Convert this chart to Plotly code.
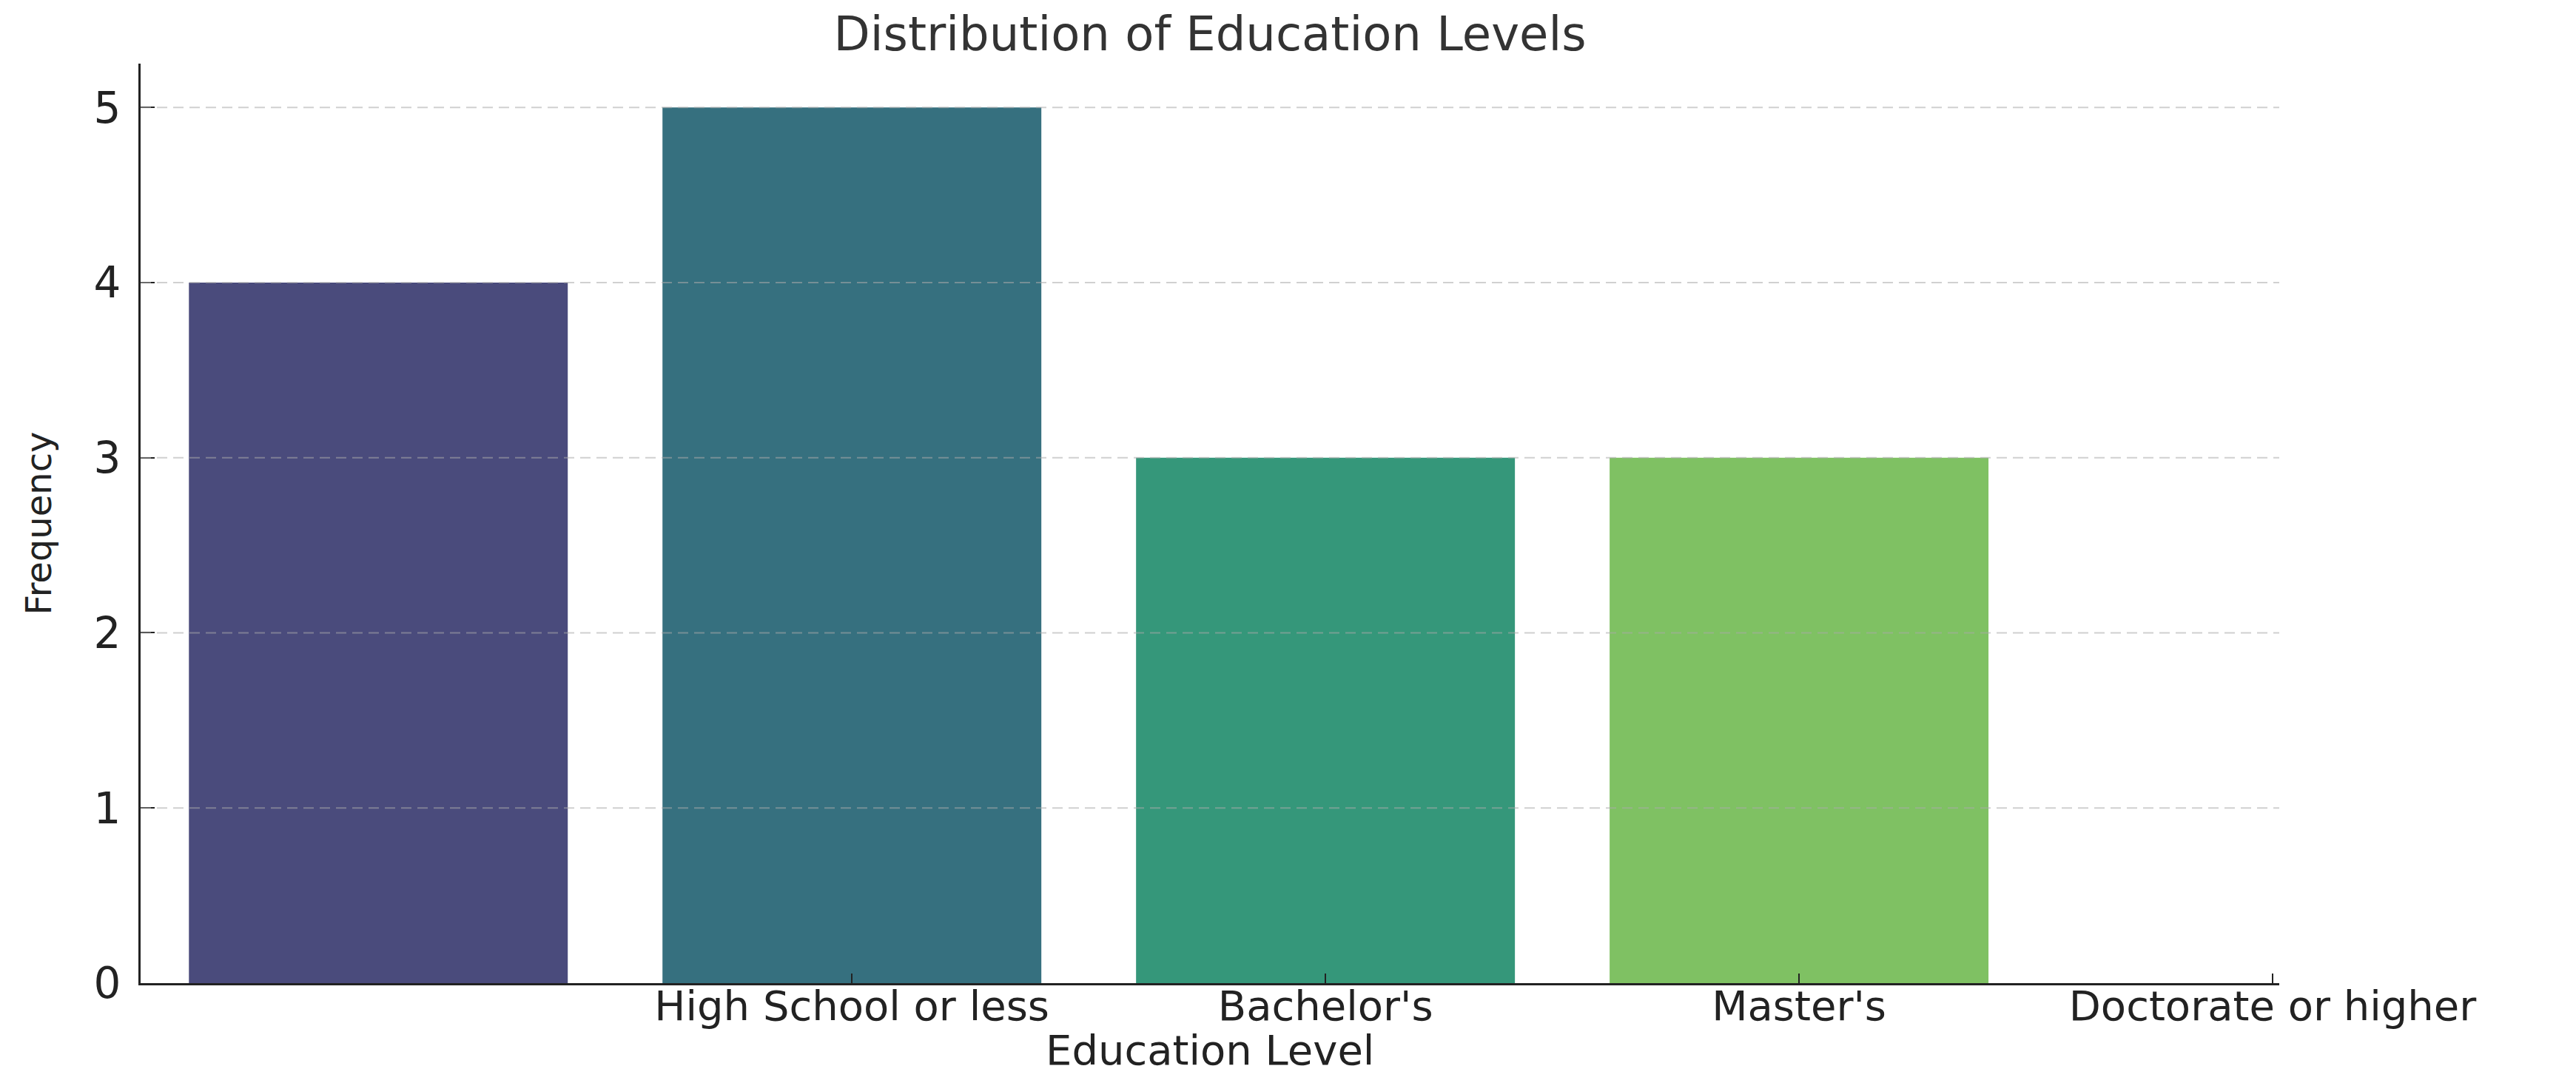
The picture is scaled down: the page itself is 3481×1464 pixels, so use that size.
import plotly.graph_objects as go

# Data
bar_positions = [0, 1, 2, 3]
frequencies = [4, 5, 3, 3]
bar_colors = ["#4A4B7C", "#36707F", "#35977A", "#7FC163"]
tick_positions = [1, 2, 3, 4]
tick_labels = ["High School or less", "Bachelor's", "Master's", "Doctorate or higher"]
y_ticks = [0, 1, 2, 3, 4, 5]
grid_values = [1, 2, 3, 4, 5]

FONT = "DejaVu Sans, Verdana, sans-serif"
# page body has an 8px margin; figure sized to fit inside the window
W, H = 3465, 1448
L, T = 182, 78
R = W - 3072
B = H - 1321
PLOT_H = H - T - B

fig = go.Figure()
fig.add_trace(go.Bar(
    x=bar_positions,
    y=frequencies,
    width=0.8,
    marker=dict(color=bar_colors, line=dict(width=0)),
    showlegend=False,
    hoverinfo="x+y",
))

# dashed grid drawn above the bars, as in the reference
for gv in grid_values:
    fig.add_shape(
        type="line", xref="paper", yref="y",
        x0=0, x1=1, y0=gv, y1=gv,
        line=dict(color="rgba(170,170,170,0.55)", width=2, dash="14px,8px"),
        layer="above",
    )

fig.add_annotation(
    text="Education Level",
    xref="paper", yref="paper",
    x=0.5, y=-91 / PLOT_H,
    xanchor="center", yanchor="middle",
    showarrow=False,
    font=dict(size=56, family=FONT, color="#222222"),
)

fig.update_layout(
    width=W,
    height=H,
    margin=dict(l=L, r=R, t=T, b=B, autoexpand=False),
    paper_bgcolor="white",
    plot_bgcolor="white",
    font=dict(family=FONT, color="#222222", size=56),
    title=dict(
        text="Distribution of Education Levels",
        x=(L + (W - R)) / 2 / W,
        xanchor="center",
        y=1 - 38 / H,
        yanchor="middle",
        font=dict(size=64, color="#333333", family=FONT),
    ),
    bargap=0.2,
)

fig.update_xaxes(
    range=[-0.502, 4.014],
    tickmode="array",
    tickvals=tick_positions,
    ticktext=tick_labels,
    ticks="inside",
    ticklen=13,
    tickwidth=2,
    tickcolor="#222222",
    showline=True,
    linecolor="#222222",
    linewidth=3,
    showgrid=False,
    zeroline=False,
    tickfont=dict(size=56, family=FONT, color="#222222"),
    ticklabelstandoff=-20,
    layer="above traces",
)

fig.update_yaxes(
    range=[0, 5.25],
    tickmode="array",
    tickvals=y_ticks,
    ticks="inside",
    ticklen=19,
    tickwidth=2,
    tickcolor="#222222",
    showline=True,
    linecolor="#222222",
    linewidth=3,
    showgrid=False,
    zeroline=False,
    tickfont=dict(size=58, family=FONT, color="#222222"),
    ticklabelstandoff=12,
    title=dict(text="Frequency", font=dict(size=48, family=FONT, color="#222222"), standoff=42),
    layer="above traces",
)

fig.write_html("out.html")
